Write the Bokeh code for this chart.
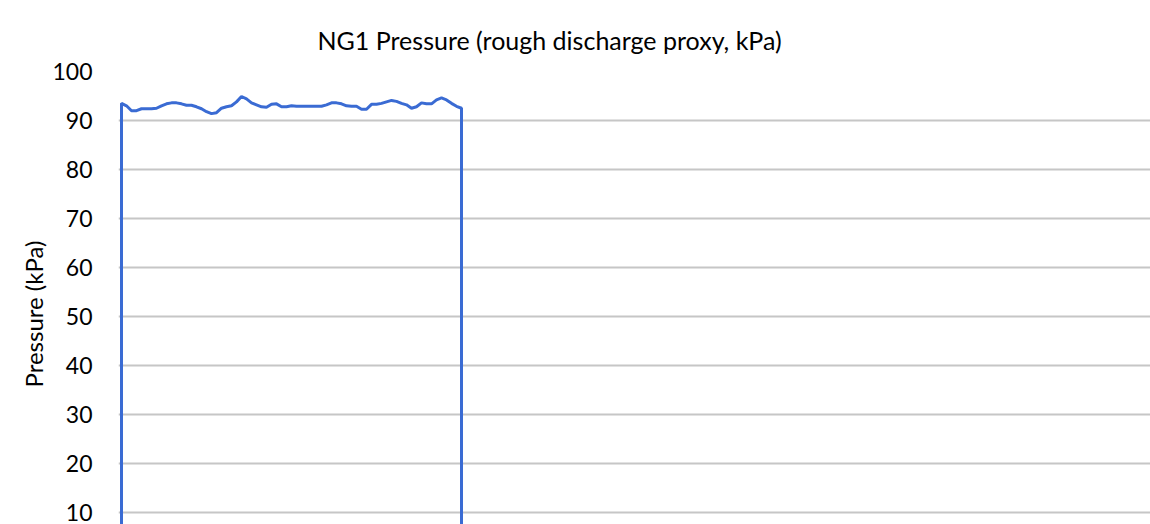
from bokeh.plotting import figure
from bokeh.models import Range1d, FixedTicker, Title
from bokeh.embed import file_html
from bokeh.resources import INLINE

# ---- data ----
sample = [0, 0, 5, 10, 15, 20, 25, 30, 35, 40, 45, 50, 55, 60, 65, 70, 75, 80, 85, 90,
          95, 100, 105, 110, 115, 120, 125, 130, 135, 140, 145, 150, 155, 160, 165, 170,
          175, 180, 185, 190, 195, 200, 205, 210, 215, 220, 225, 230, 235, 240, 245, 250,
          255, 260, 265, 270, 275, 280, 285, 290, 295, 300, 305, 310, 315, 320, 325, 330,
          335, 340, 340]
pressure_kpa = [0, 93.5, 93.0, 92.0, 92.0, 92.4, 92.4, 92.4, 92.5, 93.0, 93.4, 93.6, 93.6,
                93.4, 93.1, 93.1, 92.8, 92.4, 91.8, 91.4, 91.6, 92.5, 92.8, 93.0, 93.8,
                94.9, 94.4, 93.6, 93.2, 92.8, 92.7, 93.3, 93.4, 92.8, 92.8, 93.0, 92.9,
                92.9, 92.9, 92.9, 92.9, 92.9, 93.2, 93.6, 93.6, 93.4, 93.0, 92.9, 92.9,
                92.3, 92.3, 93.3, 93.3, 93.5, 93.8, 94.1, 93.9, 93.5, 93.2, 92.5, 92.8,
                93.6, 93.4, 93.4, 94.2, 94.6, 94.2, 93.5, 92.9, 92.5, 0]
y_ticks = [10, 20, 30, 40, 50, 60, 70, 80, 90, 100]
title_text = "NG1 Pressure (rough discharge proxy, kPa)"
y_label_text = "Pressure (kPa)"

FONT = "Lato"
W, H = 1150, 524

p = figure(width=W, height=H, output_backend="svg", toolbar_location=None,
           x_range=Range1d(-3, 1029), y_range=Range1d(7.55, 100),
           min_border_left=118, min_border_right=0, min_border_top=71,
           min_border_bottom=0, background_fill_color="white",
           border_fill_color="white", outline_line_color=None, title=None)

p.xaxis.visible = False
p.xgrid.grid_line_color = None
p.ygrid.grid_line_color = "#C6C6C6"
p.ygrid.grid_line_width = 2

ax = p.yaxis[0]
ax.ticker = FixedTicker(ticks=y_ticks)
ax.axis_line_color = None
ax.major_tick_line_color = None
ax.minor_tick_line_color = None
ax.major_label_standoff = 20
ax.major_label_text_font = FONT
ax.major_label_text_font_size = "23px"
ax.major_label_text_color = "#000000"

p.line(sample, pressure_kpa, line_color="#3A6BD3", line_width=3)

top_title = Title(text=title_text, align="left", offset=199, standoff=33,
                  text_font=FONT, text_font_size="25px", text_font_style="normal",
                  text_color="#000000")
p.add_layout(top_title, "above")

left_title = Title(text=y_label_text, align="left", offset=137, standoff=4,
                   text_font=FONT, text_font_size="24px", text_font_style="normal",
                   text_color="#000000")
p.add_layout(left_title, "left")

open("out.html", "w").write(file_html(p, INLINE))
